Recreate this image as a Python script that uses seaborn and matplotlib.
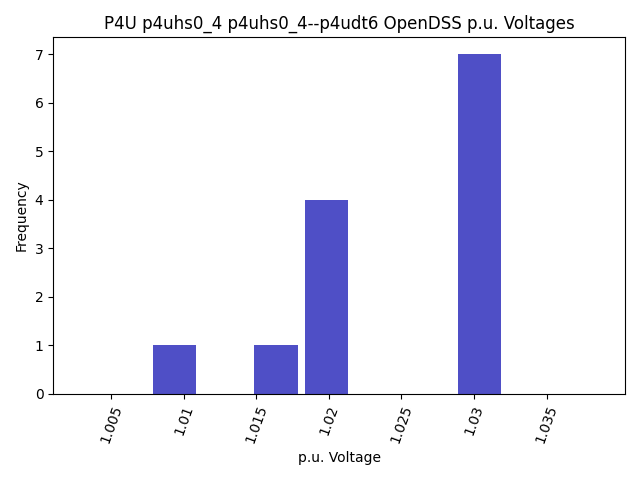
import matplotlib
matplotlib.use('Agg')
import matplotlib.pyplot as plt
import seaborn as sns
import numpy as np

# voltage readings (bin centres) and how often each occurs
voltages = [1.00935, 1.01635, 1.01985, 1.03035]
counts = [1, 1, 4, 7]
bin_edges = [1.0076, 1.0111, 1.0146, 1.0181, 1.0216, 1.0251, 1.0286, 1.0321]
tick_vals = [1.005, 1.01, 1.015, 1.02, 1.025, 1.03, 1.035]
tick_labels = ['1.005', '1.01', '1.015', '1.02', '1.025', '1.03', '1.035']

fig, ax = plt.subplots(figsize=(6.4, 4.8), dpi=100)
sns.histplot(x=voltages, weights=counts, bins=bin_edges, shrink=0.85,
             color='#4f4fc6', alpha=1.0, edgecolor='none', ax=ax)
ax.set_xlim(1.001, 1.0404)
ax.set_xticks(tick_vals)
ax.set_xticklabels(tick_labels, rotation=70)
ax.set_title('P4U p4uhs0_4 p4uhs0_4--p4udt6 OpenDSS p.u. Voltages')
ax.set_xlabel('p.u. Voltage')
ax.set_ylabel('Frequency')
fig.tight_layout()
fig.savefig('out.png')
